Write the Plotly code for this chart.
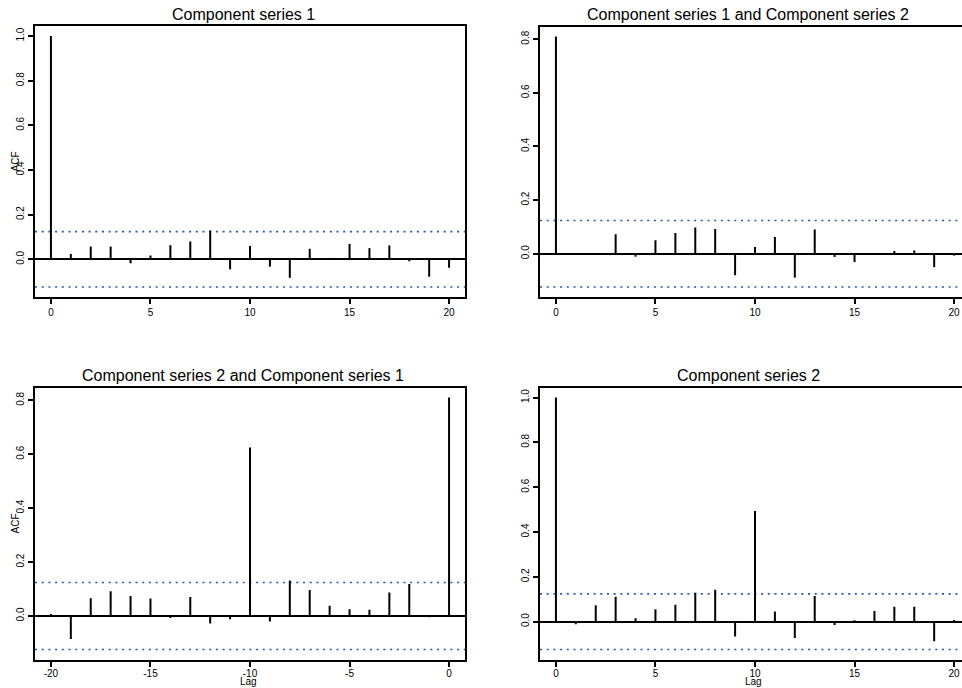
import plotly.graph_objects as go

# ACF / cross-correlation values of a bivariate series
lags_pos = list(range(0, 21))
lags_neg = list(range(-20, 1))

acf_series1 = [1.0, 0.024, 0.057, 0.057, -0.018, 0.017, 0.063, 0.080, 0.129, -0.045,
               0.060, -0.033, -0.083, 0.047, 0.006, 0.069, 0.050, 0.062, -0.009, -0.078,
               -0.038]
ccf_1_2 = [0.81, 0.0, -0.003, 0.073, -0.011, 0.050, 0.077, 0.098, 0.092, -0.080,
           0.025, 0.062, -0.089, 0.090, -0.012, -0.031, 0.001, 0.010, 0.012, -0.050,
           -0.007]
ccf_2_1 = [0.007, -0.085, 0.066, 0.092, 0.074, 0.065, -0.007, 0.070, -0.028, -0.012,
           0.625, -0.020, 0.132, 0.096, 0.038, 0.025, 0.023, 0.087, 0.119, -0.005,
           0.81]
acf_series2 = [1.0, -0.012, 0.073, 0.111, 0.015, 0.055, 0.075, 0.129, 0.142, -0.066,
               0.494, 0.045, -0.073, 0.114, -0.015, 0.006, 0.048, 0.066, 0.066, -0.088,
               0.007]

conf_limit = 0.124

titles = ["Component series 1",
          "Component series 1 and Component series 2",
          "Component series 2 and Component series 1",
          "Component series 2"]

xtick_pos = [0, 5, 10, 15, 20]
xtick_neg = [-20, -15, -10, -5, 0]
xtick_neg_text = ["-20", "-15", "-10", "-5", "0"]
ytick_1 = [0.0, 0.2, 0.4, 0.6, 0.8, 1.0]
ytick_08 = [0.0, 0.2, 0.4, 0.6, 0.8]

W, H = 962, 688
FONT = "Liberation Sans, Arial, sans-serif"


def fx(p):
    return p / W


def fy(p):
    return 1 - p / H


panel_w = 430
panels = [
    dict(lags=lags_pos, vals=acf_series1, left=35, top=26, bottom=297,
         xt=xtick_pos, xtt=[str(v) for v in xtick_pos], yt=ytick_1,
         title=titles[0], tx=243, ty=25, acf=True, lag=False),
    dict(lags=lags_pos, vals=ccf_1_2, left=540, top=26.5, bottom=297,
         xt=xtick_pos, xtt=[str(v) for v in xtick_pos], yt=ytick_08,
         title=titles[1], tx=748, ty=25, acf=False, lag=False),
    dict(lags=lags_neg, vals=ccf_2_1, left=35, top=387.5, bottom=659.5,
         xt=xtick_neg, xtt=xtick_neg_text, yt=ytick_08,
         title=titles[2], tx=243, ty=386, acf=True, lag=True),
    dict(lags=lags_pos, vals=acf_series2, left=540, top=387.5, bottom=659.5,
         xt=xtick_pos, xtt=[str(v) for v in xtick_pos], yt=ytick_1,
         title=titles[3], tx=748, ty=386, acf=False, lag=True),
]

fig = go.Figure()
layout = dict(width=W, height=H, margin=dict(l=0, r=0, t=0, b=0),
              paper_bgcolor="white", plot_bgcolor="white", showlegend=False,
              font=dict(family=FONT, size=10, color="black"))
shapes = []
annotations = []

for i, p in enumerate(panels, start=1):
    xa = "xaxis" if i == 1 else f"xaxis{i}"
    ya = "yaxis" if i == 1 else f"yaxis{i}"
    xr = "x" if i == 1 else f"x{i}"
    yr = "y" if i == 1 else f"y{i}"

    # stems from zero to each correlation value
    sx, sy = [], []
    for lag, v in zip(p["lags"], p["vals"]):
        sx += [lag, lag, None]
        sy += [0, v, None]
    fig.add_trace(go.Scatter(x=sx, y=sy, mode="lines", xaxis=xr, yaxis=yr,
                             line=dict(color="black", width=2), hoverinfo="skip"))

    # axis ranges with 4% padding
    lmin, lmax = min(p["lags"]), max(p["lags"])
    xpad = 0.04 * (lmax - lmin)
    x0, x1 = lmin - xpad, lmax + xpad
    lo = min(min(p["vals"]), -conf_limit)
    hi = max(max(p["vals"]), conf_limit)
    ypad = 0.04 * (hi - lo)

    right = p["left"] + panel_w
    if right > W:
        x1 = x0 + (x1 - x0) * (W - p["left"]) / panel_w
        right = W
    clipped = right == W

    layout[xa] = dict(domain=[fx(p["left"]), fx(right)], range=[x0, x1],
                      anchor=yr, tickmode="array", tickvals=p["xt"], ticktext=p["xtt"],
                      ticks="outside", ticklen=5, tickwidth=2, tickcolor="black",
                      ticklabelstandoff=-2 if p["lag"] else 0,
                      showline=True, linewidth=2, linecolor="black",
                      mirror=True, showgrid=False, zeroline=False,
                      tickfont=dict(size=10, family=FONT, color="black"))
    layout[ya] = dict(domain=[fy(p["bottom"]), fy(p["top"])], range=[lo - ypad, hi + ypad],
                      anchor=xr, tickmode="array", tickvals=p["yt"], tickformat=".1f",
                      tickangle=-90, ticks="outside", ticklen=5, tickwidth=2,
                      tickcolor="black", showline=True, linewidth=2, linecolor="black",
                      mirror=not clipped, showgrid=False,
                      zeroline=True, zerolinecolor="black", zerolinewidth=2,
                      tickfont=dict(size=10, family=FONT, color="black"))

    # confidence bounds
    for c in (conf_limit, -conf_limit):
        shapes.append(dict(type="line", xref=f"{xr} domain", yref=yr, x0=0, x1=1,
                           y0=c, y1=c, layer="below",
                           line=dict(color="#2458a6", width=1.6, dash="2px,4.7px")))

    annotations.append(dict(text=p["title"], x=fx(p["tx"]), y=fy(p["ty"]),
                            xref="paper", yref="paper", xanchor="center",
                            yanchor="bottom", showarrow=False,
                            font=dict(size=16, family=FONT, color="black")))
    if p["acf"]:
        annotations.append(dict(text="ACF", x=fx(15), y=fy((p["top"] + p["bottom"]) / 2),
                                xref="paper", yref="paper", xanchor="center",
                                yanchor="middle", textangle=-90, showarrow=False,
                                font=dict(size=10, family=FONT, color="black")))
    if p["lag"]:
        annotations.append(dict(text="Lag", x=fx(p["left"] + 213), y=fy(688),
                                xref="paper", yref="paper", xanchor="center",
                                yanchor="bottom", showarrow=False, borderpad=0,
                                font=dict(size=10, family=FONT, color="black")))

layout["shapes"] = shapes
layout["annotations"] = annotations
fig.update_layout(**layout)
fig.write_html("out.html")
